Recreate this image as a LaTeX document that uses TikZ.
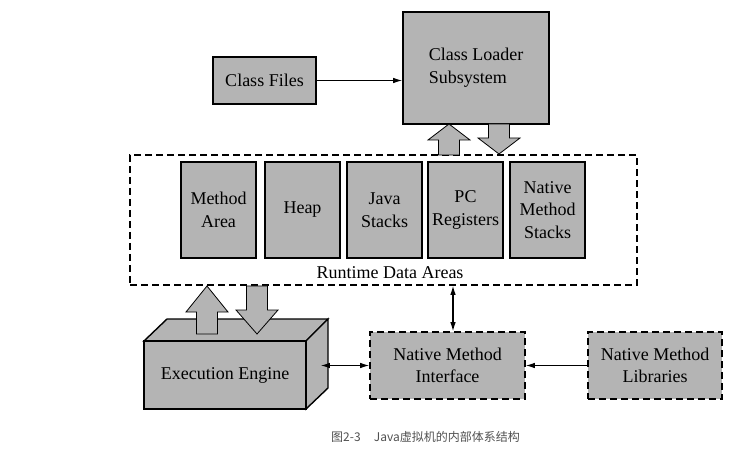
\documentclass[tikz,border=0pt]{standalone}
\usepackage{fontspec}
\setmainfont{Liberation Serif}
\newfontfamily\cjkfont{Noto Sans CJK SC}
\usetikzlibrary{arrows.meta}
\definecolor{boxgray}{RGB}{180,180,180}
\definecolor{capgray}{RGB}{80,80,80}
% hollow block arrows: x, tip y, base y, head length
\newcommand\blkup[4]{\filldraw[blockarrow] (#1-10.5,#3) -- (#1-10.5,#2+#4) -- (#1-21,#2+#4) -- (#1,#2) -- (#1+21,#2+#4) -- (#1+10.5,#2+#4) -- (#1+10.5,#3) -- cycle;}
\newcommand\blkdn[4]{\filldraw[blockarrow] (#1-10.5,#3) -- (#1-10.5,#2-#4) -- (#1-21,#2-#4) -- (#1,#2) -- (#1+21,#2-#4) -- (#1+10.5,#2-#4) -- (#1+10.5,#3) -- cycle;}
\begin{document}
\begin{tikzpicture}[x=1pt,y=-1pt,>={Latex[length=9pt,width=5.5pt]},
  box/.style={draw,line width=1.6pt,fill=boxgray,font=\fontsize{18}{22.5}\selectfont,align=center,inner sep=0pt},
  dbox/.style={box,dash pattern=on 7pt off 4pt},
  conn/.style={line width=1.1pt,->},
  blockarrow/.style={fill=boxgray,draw,line width=0.8pt}]
  \useasboundingbox (0,0) rectangle (752,454);
  % loader
  \node[box,minimum width=103,minimum height=47] (cf) at (264.5,80.5) {Class Files};
  \node[box,minimum width=146,minimum height=112,align=left,text depth=4pt] (cl) at (476,68) {Class Loader\\Subsystem};
  \draw[conn] (cf.east) -- (cf.east -| cl.west);
  % runtime data areas
  \node[draw,line width=1.6pt,dash pattern=on 7pt off 4pt,minimum width=507,minimum height=130] (rda) at (383.5,220) {};
  \node[box,minimum width=75,minimum height=96] (ma) at (218.5,210) {Method\\Area};
  \node[box,minimum width=75,minimum height=96] (heap) at (302.5,210) {Heap};
  \node[box,minimum width=75,minimum height=96] (js) at (384.5,210) {Java\\Stacks};
  \node[box,minimum width=75,minimum height=96] (pc) at (465.5,210) {PC\\Registers};
  \node[box,minimum width=75,minimum height=96] (nms) at (547.5,210) {Native\\Method\\Stacks};
  \node[font=\fontsize{18}{22.5}\selectfont] (rdalabel) at (390,273) {Runtime Data Areas};
  \blkup{449}{124}{155}{16}
  \blkdn{499}{154}{124}{16}
  % execution engine
  \filldraw[fill=boxgray,line width=1.4pt,line join=miter] (144,341) -- ++(23,-22) -- ++(161,0) -- ++(-22,22) -- cycle;
  \filldraw[fill=boxgray,line width=1.4pt,line join=miter] (306,341) -- ++(22,-22) -- ++(0,69) -- ++(-22,21) -- cycle;
  \node[box,minimum width=162,minimum height=68] (ee) at (225,375) {Execution Engine};
  \blkup{207}{286}{334}{26}
  \blkdn{257}{334}{286}{24}
  % native side
  \node[dbox,minimum width=155,minimum height=67] (nmi) at (447.5,365.5) {Native Method\\Interface};
  \node[dbox,minimum width=134,minimum height=67] (nml) at (655,365.5) {Native Method\\Libraries};
  \draw[conn,<->] ([xshift=5.5pt]nmi.north) -- ([xshift=5.5pt]nmi.north |- rda.south);
  \draw[conn,<->] ([xshift=14pt]ee.east |- nmi.west) -- (nmi.west);
  \draw[conn] (nml.west) -- (nmi.east);
  % caption
  \node[text=capgray,font=\cjkfont\fontsize{12}{14}\selectfont] (cap) at (425.5,437) {图2-3\hspace{1.1em}Java虚拟机的内部体系结构};
\end{tikzpicture}
\end{document}
